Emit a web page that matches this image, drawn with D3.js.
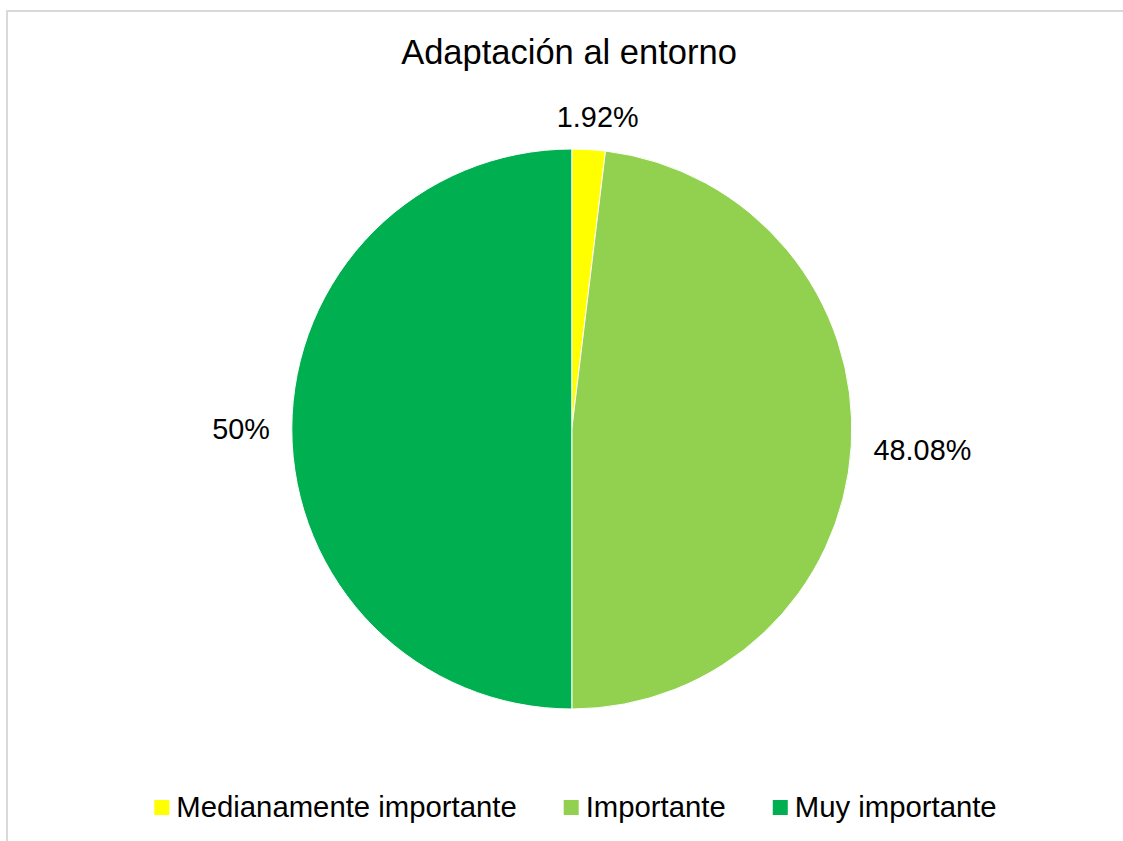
<!DOCTYPE html>
<html>
<head>
<meta charset="utf-8">
<script src="https://cdn.jsdelivr.net/npm/d3@7"></script>
<style>
  body{margin:0;background:#fff;}
  svg text{font-family:"Liberation Sans",Arial,sans-serif;fill:#000;}
</style>
</head>
<body>
<div id="chart"></div>
<script>
var width=1123, height=841;
var chartTitle='Adaptación al entorno';
var categories=['Medianamente importante','Importante','Muy importante'];
var values=[1.92,48.08,50];
var labels=['1.92%','48.08%','50%'];
var colors=['#FFFF00','#92D050','#00B050'];

var cx=571.8, cy=429, radius=280;
var labelSize=28.8, legendSize=29.3;

var svg=d3.select('#chart').append('svg')
  .attr('width',width)
  .attr('height',height);

// chart area border
svg.append('rect')
  .attr('x',7).attr('y',11)
  .attr('width',width+20).attr('height',height+20)
  .attr('fill','#fff')
  .attr('stroke','#D9D9D9')
  .attr('stroke-width',2);

svg.append('text')
  .attr('x',569).attr('y',64)
  .attr('text-anchor','middle')
  .style('font-size','34.5px')
  .text(chartTitle);

var pie=d3.pie().sort(null).value(function(d){return d;});
var arcs=pie(values);
var arc=d3.arc().innerRadius(0).outerRadius(radius);

var g=svg.append('g').attr('transform','translate('+cx+','+cy+')');

g.selectAll('path')
  .data(arcs)
  .enter()
  .append('path')
  .attr('d',arc)
  .attr('fill',function(d,i){return colors[i];})
  .attr('stroke','#fff')
  .attr('stroke-width',1);

// outside-end labels
var lbl=g.selectAll('text.lbl')
  .data(arcs)
  .enter()
  .append('text')
  .attr('class','lbl')
  .attr('text-anchor','middle')
  .attr('dy','0.35em')
  .style('font-size',labelSize+'px')
  .text(function(d,i){return labels[i];});

lbl.each(function(d){
  var a=(d.startAngle+d.endAngle)/2;
  var w=this.getComputedTextLength();
  var h=labelSize*0.3;
  var off=radius+22+Math.abs(Math.sin(a))*w/2+Math.abs(Math.cos(a))*h;
  // small labels near the top sit a bit to the right, as in the source
  var shift=Math.abs(Math.cos(a))>0.9?Math.sign(Math.sin(a))*7:0;
  d3.select(this)
    .attr('x',off*Math.sin(a)+shift)
    .attr('y',-off*Math.cos(a));
});

// legend
var legend=svg.append('g');
var items=legend.selectAll('g')
  .data(categories)
  .enter()
  .append('g');

items.append('rect')
  .attr('width',15).attr('height',15)
  .attr('y',800)
  .attr('fill',function(d,i){return colors[i];});

items.append('text')
  .attr('y',817)
  .style('font-size',legendSize+'px')
  .text(function(d){return d;});

var xpos=[];
var total=0;
items.each(function(d,i){
  var tw=d3.select(this).select('text').node().getComputedTextLength();
  xpos.push(total);
  total+=15+7+tw+(i<categories.length-1?47:0);
});
var start=575.5-total/2;
items.each(function(d,i){
  var s=d3.select(this);
  s.select('rect').attr('x',start+xpos[i]);
  s.select('text').attr('x',start+xpos[i]+22);
});
</script>
</body>
</html>
